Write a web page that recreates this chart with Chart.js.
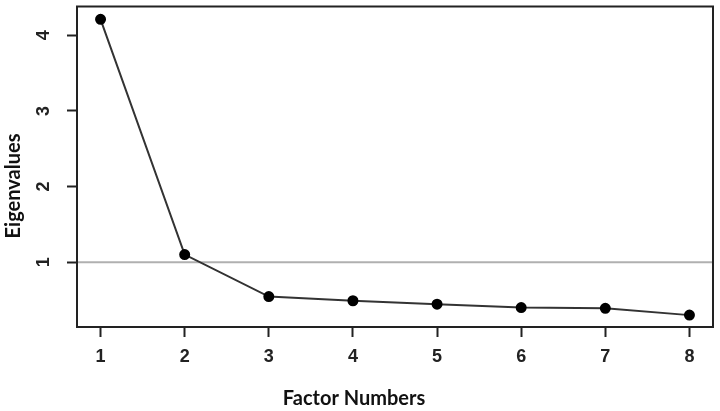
<!DOCTYPE html>
<html lang="en">
<head>
  <meta charset="UTF-8" />
  <title>Scree Plot</title>
  <script src="https://cdn.jsdelivr.net/npm/chart.js"></script>
  <style>
    html, body { margin: 0; padding: 0; background: #fff; }
    #wrap { width: 720px; height: 411px; position: relative; }
  </style>
</head>
<body>
  <div id="wrap"><canvas id="scree"></canvas></div>
  <script>
    // factor numbers and their eigenvalues
    const factors = [1, 2, 3, 4, 5, 6, 7, 8];
    const eigenvalues = [4.21, 1.10, 0.545, 0.49, 0.445, 0.40, 0.39, 0.30];
    const xTicks = [1, 2, 3, 4, 5, 6, 7, 8];
    const yTicks = [1, 2, 3, 4];
    const threshold = 1;

    const xTitle = 'Factor Numbers';
    const yTitle = 'Eigenvalues';

    const points = factors.map((f, i) => ({ x: f, y: eigenvalues[i] }));
    const tickFont = { family: "'Liberation Sans', Arial, sans-serif", size: 18, weight: 'bold' };

    // box around plot area, the h=1 reference line, axis titles
    const extras = {
      id: 'extras',
      beforeDatasetsDraw(chart) {
        const { ctx, chartArea: a, scales } = chart;
        const y = scales.y.getPixelForValue(threshold);
        ctx.save();
        ctx.strokeStyle = '#b0b0b0';
        ctx.lineWidth = 2;
        ctx.beginPath();
        ctx.moveTo(a.left, y);
        ctx.lineTo(a.right, y);
        ctx.stroke();
        ctx.restore();
      },
      afterDraw(chart) {
        const { ctx, chartArea: a } = chart;
        ctx.save();
        ctx.strokeStyle = '#222';
        ctx.lineWidth = 2;
        ctx.strokeRect(a.left, a.top, a.right - a.left, a.bottom - a.top);

        ctx.fillStyle = '#111';
        ctx.font = 'bold 20px Lato';
        ctx.textAlign = 'center';
        ctx.textBaseline = 'middle';
        ctx.fillText(xTitle, 354, 399);
        ctx.translate(14, 186);
        ctx.rotate(-Math.PI / 2);
        ctx.fillText(yTitle, 0, 0);
        ctx.restore();
      }
    };

    new Chart(document.getElementById('scree'), {
      type: 'line',
      data: {
        datasets: [{
          data: points,
          borderColor: '#333',
          borderWidth: 2,
          pointBackgroundColor: '#000',
          pointBorderColor: '#000',
          pointRadius: 4.5,
          tension: 0
        }]
      },
      options: {
        responsive: true,
        maintainAspectRatio: false,
        animation: false,
        events: [],
        layout: { padding: { top: 5, right: 7, left: 0, bottom: 0 } },
        plugins: { legend: { display: false }, tooltip: { enabled: false } },
        scales: {
          x: {
            type: 'linear',
            min: 0.72,
            max: 8.28,
            afterBuildTicks: s => { s.ticks = xTicks.map(v => ({ value: v })); },
            afterFit: s => { s.height = 84; s.paddingLeft = 0; s.paddingRight = 0; },
            grid: { drawOnChartArea: false, tickLength: 10, tickColor: '#222', tickWidth: 2 },
            border: { display: false },
            ticks: { color: '#222', padding: 9, font: tickFont }
          },
          y: {
            type: 'linear',
            min: 0.143,
            max: 4.38,
            afterBuildTicks: s => { s.ticks = yTicks.map(v => ({ value: v })); },
            afterFit: s => { s.width = 77; s.paddingTop = 0; s.paddingBottom = 0; },
            grid: { drawOnChartArea: false, tickLength: 10, tickColor: '#222', tickWidth: 2 },
            border: { display: false },
            ticks: {
              color: '#222',
              padding: 18,
              minRotation: 90,
              maxRotation: 90,
              crossAlign: 'center',
              font: tickFont
            }
          }
        }
      },
      plugins: [extras]
    });
  </script>
</body>
</html>
